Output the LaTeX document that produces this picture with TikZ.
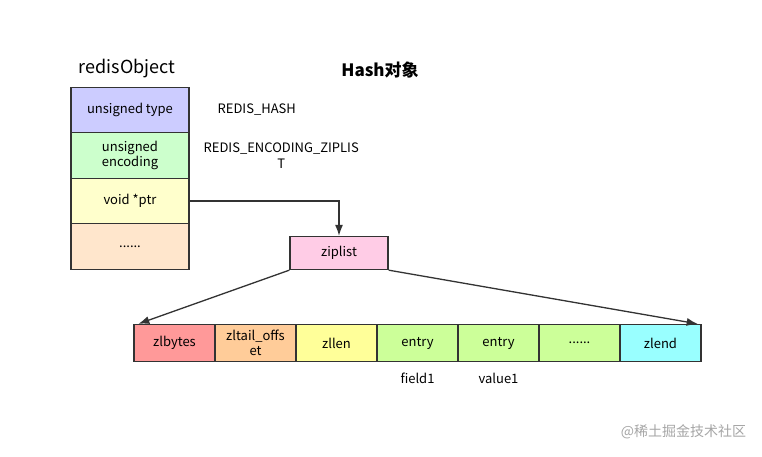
\documentclass[tikz,border=0pt]{standalone}
\usepackage{fontspec}
\setmainfont{Noto Sans CJK SC}
\usetikzlibrary{arrows,arrows.meta,positioning}
\definecolor{typecol}{HTML}{CCCCFF}
\definecolor{enccol}{HTML}{CCFFCC}
\definecolor{ptrcol}{HTML}{FFFFCC}
\definecolor{restcol}{HTML}{FFE6CC}
\definecolor{zipcol}{HTML}{FFCCE6}
\definecolor{bytescol}{HTML}{FF9999}
\definecolor{tailcol}{HTML}{FFCC99}
\definecolor{lencol}{HTML}{FFFF99}
\definecolor{entrycol}{HTML}{CCFF99}
\definecolor{endcol}{HTML}{99FFFF}
\definecolor{linecol}{HTML}{333333}
\tikzstyle{field} = [draw=linecol, rectangle, minimum height=45.5pt, minimum width=118pt, align=center, font=\fontsize{13}{15}\selectfont]
\tikzstyle{cell} = [draw=linecol, rectangle, minimum height=37pt, minimum width=81pt, align=center, font=\fontsize{13}{15}\selectfont]
\tikzstyle{note} = [align=center, font=\fontsize{13}{16}\selectfont]

\begin{document}
\begin{tikzpicture}[x=1pt, y=-1pt, >={Latex[length=11pt,width=8pt]}, line width=1.3pt]
    \useasboundingbox (0,0) rectangle (762,456);
    \fill[white] (0,0) rectangle (762,456);

    % titles
    \node[font=\fontsize{18}{20}\selectfont] (title) at (127,69) {redisObject};
    \node[font=\bfseries\fontsize{17}{20}\selectfont] (hash) at (380,70) {Hash对象};

    % the redisObject
    \begin{scope}[node distance=45.5pt]
    \node [field, fill=typecol] (type) at (130,110) {unsigned type};
    \node [field, fill=enccol, below of=type] (enc) {unsigned\\encoding};
    \node [field, fill=ptrcol, below of=enc] (ptr) {void *ptr};
    \node [field, fill=restcol, below of=ptr] (rest) {......};
    \end{scope}

    \node [note, right=24pt of type] (typeval) {REDIS\_HASH};
    \node [note, right=10pt of enc] (encval) {REDIS\_ENCODING\_ZIPLIS\\T};

    % the ziplist
    \node [cell, fill=zipcol, minimum width=98pt, minimum height=33pt] (ziplist) at (339,253) {ziplist};

    \begin{scope}[node distance=81pt]
    \node [cell, fill=bytescol] (zlbytes) at (174.5,343) {zlbytes};
    \node [cell, fill=tailcol, right of=zlbytes] (zltail) {zltail\_offs\\et};
    \node [cell, fill=lencol, right of=zltail] (zllen) {zllen};
    \node [cell, fill=entrycol, right of=zllen] (field) {entry};
    \node [cell, fill=entrycol, right of=field] (value) {entry};
    \node [cell, fill=entrycol, right of=value] (more) {......};
    \node [cell, fill=endcol, right of=more] (zlend) {zlend};
    \end{scope}

    \node [note, below=7pt of field] (fieldname) {field1};
    \node [note, below=7pt of value] (valuename) {value1};

    % pointers
    \draw [->, linecol] (ptr.east) -| (ziplist.north);
    \draw [->, linecol] (ziplist.south west) -- ([xshift=5pt]zlbytes.north west);
    \draw [->, linecol] (ziplist.south east) -- ([xshift=-4pt]zlend.north east);

    \node [text=black!35, font=\fontsize{14}{16}\selectfont, anchor=east] (mark) at (750,432) {@稀土掘金技术社区};
\end{tikzpicture}
\end{document}
